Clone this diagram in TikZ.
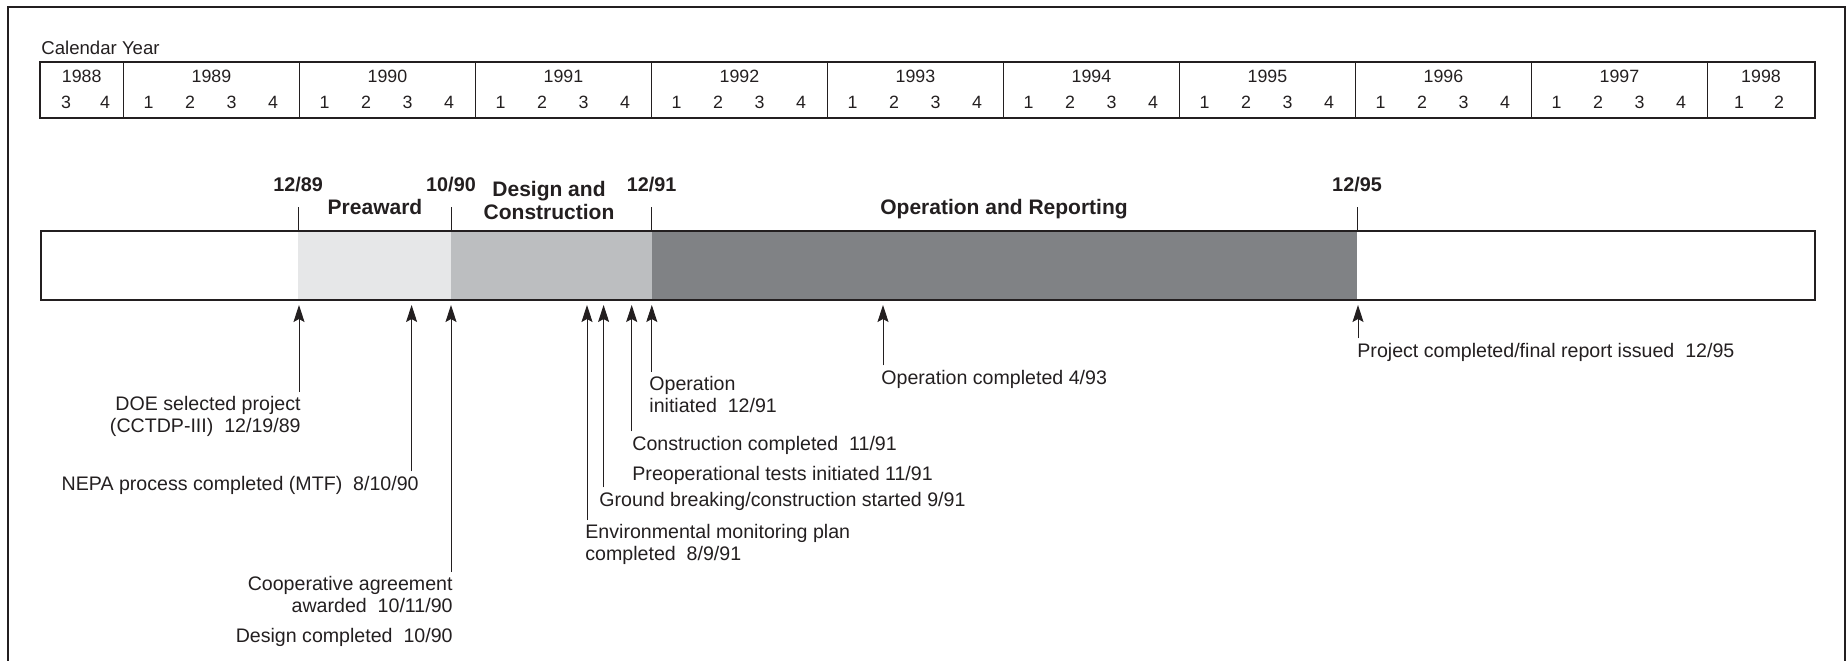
\documentclass[tikz,border=0pt]{standalone}
\usepackage{fontspec}
\setmainfont{Liberation Sans}
\usepackage{xcolor}
\usetikzlibrary{arrows.meta}
\tikzset{>={Stealth[length=8.5pt,width=5.5pt,inset=1.5pt]}}
\definecolor{ink}{HTML}{231F20}
\definecolor{preaward}{HTML}{E6E7E8}
\definecolor{design}{HTML}{BCBEC0}
\definecolor{operation}{HTML}{808285}
\tikzset{
  calnum/.style={anchor=base,inner sep=0pt,text=ink,font=\fontsize{8.9}{10}\selectfont},
  datelbl/.style={anchor=base,inner sep=0pt,text=ink,font=\fontsize{9.9}{11}\selectfont\bfseries},
  phaselbl/.style={inner sep=0pt,text=ink,align=center,font=\fontsize{10.5}{11.5}\selectfont\bfseries},
  eventlbl/.style={inner sep=0pt,text=ink,font=\fontsize{9.8}{10.75}\selectfont},
  evarrow/.style={->,ink,line width=0.5pt},
  datetick/.style={ink,line width=0.5pt}
}

\begin{document}
\begin{tikzpicture}[x=0.5pt,y=-0.5pt]
        \useasboundingbox (0,0) rectangle (1847,660);
        \draw[ink,line width=1.4pt] (8,7) rectangle (1845,720);
        % calendar table
        \node[anchor=base west,inner sep=0pt,text=ink,font=\fontsize{9.3}{11}\selectfont] (calyear) at (41,54.5) {Calendar Year};
        \draw[ink,line width=0.6pt] (40,62) rectangle (1815,118);
        \foreach \k in {0,...,9}
          \draw[ink,line width=0.6pt] (123.4+176*\k,62) -- (123.4+176*\k,118);
        \node[calnum] (yr1988) at (81.7,82.7) {1988};
        \node[calnum] (qt1988-3) at (66,108) {3};
        \node[calnum] (qt1988-4) at (105,108) {4};
        \foreach \k [evaluate=\k as \yr using int(1989+\k)] in {0,...,8} {
          \node[calnum] (yr\yr) at (211.4+176*\k,82.7) {\yr};
          \foreach \q in {1,...,4}
            \node[calnum] (qt\yr-\q) at (107+176*\k+41.5*\q,108) {\q};
        }
        \node[calnum] (yr1998) at (1761,82.7) {1998};
        \node[calnum] (qt1998-1) at (1739,108) {1};
        \node[calnum] (qt1998-2) at (1779,108) {2};
        % project phases
        \fill[preaward] (298.2,231) rectangle (451,300);
        \fill[design] (451,231) rectangle (651.6,300);
        \fill[operation] (651.6,231) rectangle (1357,300);
        \draw[ink,line width=1.3pt] (41,231) rectangle (1815,300);
        \coordinate (m8912) at (298.2,231);
        \coordinate (m9010) at (451,231);
        \coordinate (m9112) at (651.6,231);
        \coordinate (m9512) at (1357,231);
        \node[datelbl] (d8912) at (298.2,191) {12/89};
        \node[datelbl] (d9010) at (451,191) {10/90};
        \node[datelbl] (d9112) at (651.6,191) {12/91};
        \node[datelbl] (d9512) at (1357,191) {12/95};
        \foreach \m/\d in {m8912/d8912,m9010/d9010,m9112/d9112,m9512/d9512}
          \draw[datetick] (\m) -- ([yshift=-7.5pt]\m |- \d.south);
        \node[phaselbl,anchor=base] (preaward) at (375,214) {Preaward};
        \node[phaselbl,anchor=north] (designcon) at (549,181) {Design and\\Construction};
        \node[phaselbl,anchor=base] (operation) at (1004,214) {Operation and Reporting};
        % events
        \coordinate (a_doe) at (299,305);
        \coordinate (a_nepa) at (411.6,305);
        \coordinate (a_coop) at (451,305);
        \coordinate (a_env) at (587,305);
        \coordinate (a_grnd) at (603.6,305);
        \coordinate (a_cons) at (631.7,305);
        \coordinate (a_opi) at (651.8,305);
        \coordinate (a_opc) at (883,305);
        \coordinate (a_proj) at (1358,305);
        \node[eventlbl,anchor=north east,align=right] (e_doe) at (301,396) {DOE selected project\\(CCTDP-III)~ 12/19/89};
        \node[eventlbl,anchor=base east] (e_nepa) at (419,490) {NEPA process completed (MTF)~ 8/10/90};
        \node[eventlbl,anchor=north east,align=right] (e_coop) at (453,576) {Cooperative agreement\\awarded~ 10/11/90};
        \node[eventlbl,anchor=base east] (e_dsgn) at (453,642) {Design completed~ 10/90};
        \node[eventlbl,anchor=north west,align=left] (e_env) at (585,524) {Environmental monitoring plan\\completed~ 8/9/91};
        \node[eventlbl,anchor=base west] (e_grnd) at (599,506) {Ground breaking/construction started 9/91};
        \node[eventlbl,anchor=base west] (e_preop) at (632,480) {Preoperational tests initiated 11/91};
        \node[eventlbl,anchor=base west] (e_cons) at (632,450) {Construction completed~ 11/91};
        \node[eventlbl,anchor=north west,align=left] (e_opi) at (649,376) {Operation\\initiated~ 12/91};
        \node[eventlbl,anchor=base west] (e_opc) at (881,384) {Operation completed 4/93};
        \node[eventlbl,anchor=base west] (e_proj) at (1357,357) {Project completed/final report issued~ 12/95};
        \foreach \a/\e in {a_doe/e_doe,a_nepa/e_nepa,a_coop/e_coop,a_env/e_env,a_grnd/e_grnd,a_cons/e_cons,a_opi/e_opi,a_opc/e_opc,a_proj/e_proj}
          \draw[evarrow] ([yshift=2pt]\a |- \e.north) -- (\a);
      \end{tikzpicture}
\end{document}
